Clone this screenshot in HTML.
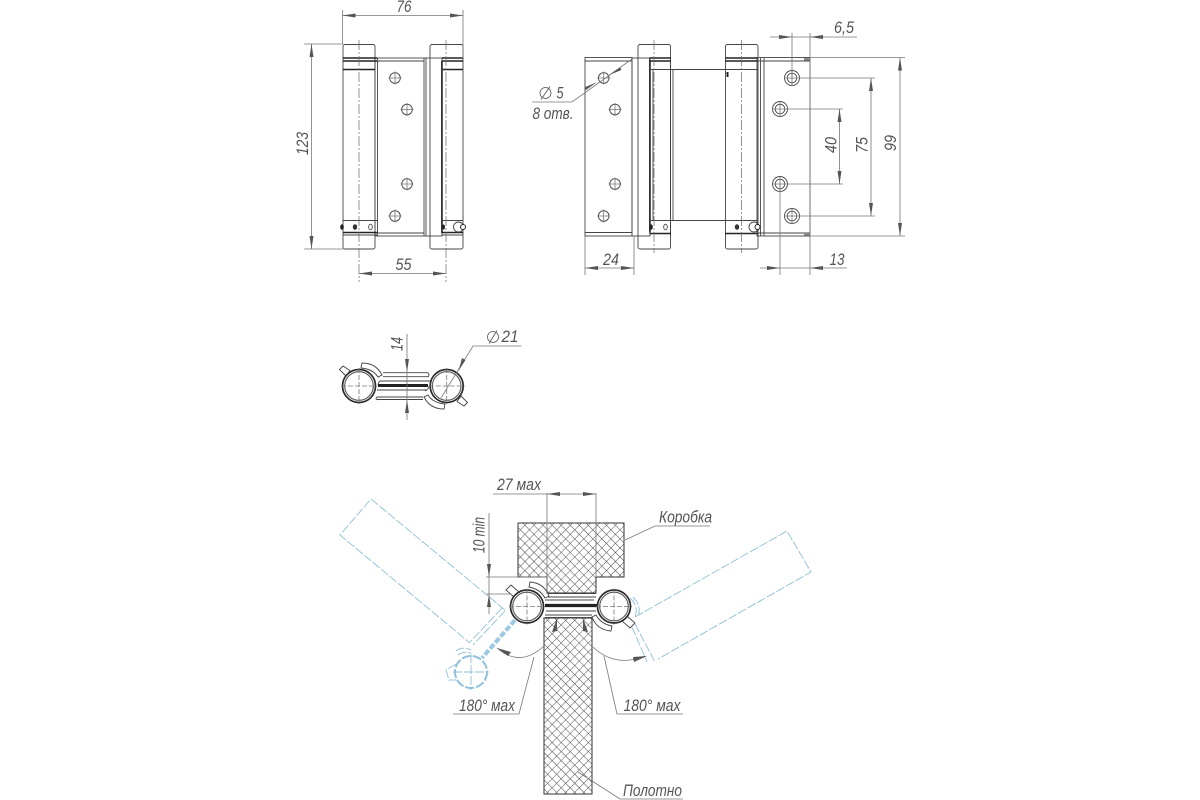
<!DOCTYPE html>
<html><head><meta charset="utf-8">
<style>
html,body{margin:0;padding:0;background:#fff}
svg{display:block;filter:blur(0.35px)}
text{font-family:"Liberation Sans",sans-serif;font-style:italic;font-size:17px;fill:#555;text-anchor:middle}
.o{fill:none;stroke:#444;stroke-width:.9}
.b{fill:none;stroke:#222;stroke-width:1.4}
.d{fill:none;stroke:#777;stroke-width:.8}
.c{fill:none;stroke:#666;stroke-width:.7;stroke-dasharray:10 2 2 2}
.bl{fill:none;stroke:#8fbfd6;stroke-width:.9;stroke-dasharray:9 2}
.h{fill:url(#x);stroke:#333;stroke-width:1}
.a{fill:#555}
</style></head><body>
<svg width="1200" height="800" viewBox="0 0 1200 800" xmlns="http://www.w3.org/2000/svg">
<defs>
<pattern id="x" width="6.400" height="6.400" patternUnits="userSpaceOnUse" patternTransform="rotate(45)">
<path d="M0 0H6.400M0 0V6.400" stroke="#444" stroke-width=".9" fill="none"/>
</pattern>
<g id="hole"><circle r="5.300" class="o"/><path d="M-6.500 0H6.500M0-6.500V6.500" class="d"/></g>
<g id="hole2"><circle r="7.500" class="o"/><circle r="4.800" class="o"/><path d="M-8 0H8M0-8V8" class="d"/></g>
<g id="sec">
<circle r="16.500" fill="#fff" stroke="#2a2a2a" stroke-width="1.700"/><circle r="14.300" fill="none" stroke="#555" stroke-width="1.100"/>
<path d="M-18 0H18M0-18V18" class="d" stroke-dasharray="5 2"/>
</g>
</defs>

<!-- LEFT HINGE -->
<g>
<rect x="343" y="44.500" width="32" height="204.500" rx="2" class="o"/>
<rect x="430" y="44.500" width="33" height="204.500" rx="2" class="o"/>
<rect x="375" y="58" width="67" height="178" fill="#fff" class="o"/>
<path d="M375 61H424M375 233H424M377.500 58V236M424 58V236M426 58V236" class="o"/>
<path d="M343 58H377M343 61H377M442 58H463M442 61H463" class="b"/>
<path d="M343 69.500H375M442 69.500H463M343 232.500H377M442 232.500H463" class="b"/>
<path d="M343 220.500H377M442 220.500H463M343 235H377M442 235H463" class="o"/>
<rect x="441" y="61" width="1.800" height="172" fill="#333"/>
<use href="#hole" x="395" y="78"/><use href="#hole" x="407" y="109.500"/>
<use href="#hole" x="407" y="184"/><use href="#hole" x="395" y="216"/>
<ellipse cx="342" cy="227" rx="1.800" ry="2.800" fill="#222"/><ellipse cx="355" cy="227" rx="2.200" ry="2.800" fill="#333"/><ellipse cx="370.500" cy="227" rx="1.800" ry="2.800" class="o"/>
<ellipse cx="443.500" cy="227" rx="1.500" ry="2.600" fill="#222"/>
<circle cx="458.500" cy="227" r="5" fill="#fff" class="o"/><circle cx="463" cy="227" r="2.500" fill="#fff" stroke="#222"/>
<path d="M359 40V282M446 40V282" class="c"/>
<path d="M342.500 10V44M463 10V58M342.500 15.500H463M304 44H343M304 249H343M311.500 44V249M359 273.500H446" class="d"/>
<path class="a" d="M342.500 15.500l13-2v4zM463 15.500l-13-2v4zM311.500 44l-2 13h4zM311.500 249l-2-13h4zM359 273.500l13-2v4zM446 273.500l-13-2v4z"/>
<text x="404" y="12" textLength="15" lengthAdjust="spacingAndGlyphs">76</text>
<text x="403.500" y="270" textLength="16" lengthAdjust="spacingAndGlyphs">55</text>
<text transform="translate(308,143.500) rotate(-90)" textLength="23" lengthAdjust="spacingAndGlyphs">123</text>
</g>

<!-- RIGHT HINGE -->
<g>
<rect x="638" y="44.500" width="32.500" height="204.500" rx="2" class="o"/>
<rect x="725.500" y="44.500" width="32.500" height="204.500" rx="2" class="o"/>
<rect x="585" y="57.500" width="47" height="178.500" fill="#fff" class="o"/>
<path d="M585 61H632M585 232.500H632" class="o"/>
<rect x="632" y="58" width="18" height="178" fill="#fff" class="o"/>
<path d="M649.500 58V233M653 69V220M673 69.500V220M670.500 58V236" class="o"/>
<rect x="649" y="60" width="1.800" height="172" fill="#333"/>
<path d="M649.500 58H671M649.500 61H671M725 58H758M725 61H758" class="b"/>
<path d="M649.500 69.500H725M725 69.500H758M649.500 220.500H725M725 220.500H758" class="o"/>
<path d="M649.500 233.500H671M725 233.500H758" class="b"/>
<rect x="757" y="57.500" width="53" height="178.500" fill="#fff" class="o"/>
<path d="M760.500 58V236M764 58V236M757 61H810M757 233H810" class="o"/>
<rect x="804" y="58" width="6" height="2.500" fill="#888"/><rect x="804" y="233" width="6" height="2.500" fill="#888"/>
<rect x="726.500" y="72" width="2" height="5" fill="#222"/>
<use href="#hole" x="603.700" y="78"/><use href="#hole" x="615" y="109.500"/>
<use href="#hole" x="615" y="184"/><use href="#hole" x="603.700" y="216"/>
<use href="#hole2" x="792" y="78"/><use href="#hole2" x="780" y="109"/>
<use href="#hole2" x="780" y="184"/><use href="#hole2" x="792" y="216"/>
<ellipse cx="651" cy="227" rx="1.800" ry="2.800" fill="#222"/><ellipse cx="665.500" cy="227" rx="1.800" ry="2.800" class="o"/>
<ellipse cx="737" cy="227" rx="2.200" ry="2.800" fill="#333"/>
<circle cx="754" cy="227" r="5" fill="#fff" class="o"/><circle cx="757.500" cy="227" r="2.500" fill="#fff" stroke="#222"/>
<path d="M654 40V253M741.500 40V253" class="c"/>
<path d="M585 236V275M634 236V275M585 268H634M792 33V78M810 33V275M770 37H857M780 184V275M760 268H847M810 57.500H905M810 236H905M900 57.500V236M799 78H875M799 216H875M871 78V216M787 109H843M787 184H843M839.500 109V184" class="d"/>
<path class="a" d="M585 268l13-2v4zM634 268l-13-2v4zM792 37l-13-2v4zM810 37l13-2v4zM780 268l-13-2v4zM810 268l13-2v4zM900 57.500l-2 13h4zM900 236l-2-13h4zM871 78l-2 13h4zM871 216l-2-13h4zM839.500 109l-2 13h4zM839.500 184l-2-13h4z"/>
<path d="M532 102H572L632 59" class="d"/>
<path class="a" d="M609 75l11-7.500 1.500 2.500zM597 82l-11 8-1.500-2.500z"/>
<text x="844" y="33" textLength="20" lengthAdjust="spacingAndGlyphs">6,5</text>
<text x="837" y="265" textLength="15" lengthAdjust="spacingAndGlyphs">13</text>
<text x="611" y="265" textLength="16" lengthAdjust="spacingAndGlyphs">24</text>
<text transform="translate(836.500,145) rotate(-90)" textLength="16" lengthAdjust="spacingAndGlyphs">40</text>
<text transform="translate(867.500,145) rotate(-90)" textLength="16" lengthAdjust="spacingAndGlyphs">75</text>
<text transform="translate(896,143) rotate(-90)" textLength="16" lengthAdjust="spacingAndGlyphs">99</text>
<text x="560" y="98.500" textLength="7" lengthAdjust="spacingAndGlyphs">5</text>
<text x="553" y="119" textLength="41" lengthAdjust="spacingAndGlyphs">8 отв.</text>
<circle cx="545.500" cy="93" r="5.500" class="d" style="stroke:#555"/><path d="M541 99.500L550 86.500" class="d" style="stroke:#555"/>
</g>

<!-- SECTION -->
<g>
<path d="M383 372.700H428M383 376.700H428M377 397H423M377 399.500H423" class="o"/>
<path d="M428 372.700Q430 375 428 377M377 397Q375 399 377 400" class="o"/>
<path d="M380 381Q378 383 378 385M425 391Q429 389 429 386" class="o"/>
<path d="M380 381H431M377 390H426" stroke="#444" stroke-width="1" fill="none"/>
<path d="M378 385.500H428" stroke="#222" stroke-width="3" fill="none"/>
<path d="M362 363Q376 363 382 375L378 377Q373 369 361 368ZM444 409Q430 409 424 397L428 395Q433 403 445 404Z" fill="#fff" class="o"/>
<path d="M339.500 369.500L343 366L350 370.500L346 376ZM467.500 402.500L464 406L457 401.500L461 396Z" fill="#fff" class="o"/>
<use href="#sec" x="359" y="386"/><use href="#sec" x="446.700" y="386"/>
<path d="M441 398L473 346H521.500" class="d"/>
<path d="M407 334V420" class="d"/>
<path class="a" d="M407 372l-2-13h4zM407 400l-2 13h4zM458.500 371l3.500-13 3.500 2z"/>
<text transform="translate(402.500,344) rotate(-90)" textLength="14" lengthAdjust="spacingAndGlyphs">14</text>
<text x="510" y="342" textLength="17" lengthAdjust="spacingAndGlyphs">21</text>
<circle cx="493" cy="337" r="5.500" class="d" style="stroke:#555"/><path d="M489 343.500L497 330.500" class="d" style="stroke:#555"/>
</g>

<!-- BOTTOM -->
<g>
<path class="h" d="M518 523H624V577H596V593H547V577H518Z"/>
<rect class="h" x="544" y="618" width="48" height="176"/>
<path d="M547 493V593M596 493V577M486 577H547M486 594H510M489 513V614" class="d"/>
<path d="M493 494H596" class="d"/>
<path class="a" d="M547 494l13-2v4zM596 494l-13-2v4zM489 577l-2-13h4zM489 594l-2 13h4z"/>
<!-- doors -->
<path class="bl" d="M505 610L371 499L340 535L470 643"/>
<path class="bl" d="M635 617L787 531L811 572L658 659"/>
<path class="bl" d="M505 611L473 645M502 608L470 642"/>
<path class="bl" d="M632 627L647 662M635 624L655 662"/>
<path d="M515 620L482 658" stroke="#9cc8e2" stroke-width="4" stroke-dasharray="6 2" fill="none"/>
<circle cx="471" cy="672" r="16" fill="#fff" stroke="#8fc0dc" stroke-width="2" stroke-dasharray="9 2"/>
<path d="M453 672H489M471 654V690" class="bl"/>
<path d="M456 664L446 670L449 680L456 680" class="bl"/>
<path d="M456 651Q462 646 471 650M458 655Q463 651 471 653" class="bl"/>
<path d="M630 598Q639 606 635 617M633 597Q642 606 638 617" class="bl"/>
<!-- hinge section -->
<rect x="545" y="594" width="52" height="24" fill="#fff"/>
<path d="M548 593.500H596M548 597H596M545 615H592M545 617.500H592" class="o"/>
<path d="M545 600H594M546 611H596" stroke="#444" stroke-width="1" fill="none"/>
<path d="M545 605.500H597" stroke="#222" stroke-width="3.200" fill="none"/>
<path d="M530 582Q544 583 549 596L545 598Q540 589 529 587ZM611 631Q597 630 592 617L596 615Q601 624 612 626Z" fill="#fff" class="o"/>
<path d="M506 590L511 585L519 592L514 597ZM635 623L630 628L622 621L627 616Z" fill="#fff" class="o"/>
<use href="#sec" x="527" y="606.500"/><use href="#sec" x="614" y="606.500"/>
<!-- angle arcs -->
<path d="M497 648Q520 668 544 646M593 647Q615 668 645 656" class="d"/>
<path class="a" d="M497 648l14 4-3 4zM647 656l-14 1 1 5zM557 618L552 632L557 631ZM583 618L588 632L583 631Z"/>
<path d="M534 657L519 714H453M604 656L617 714H683" class="d"/>
<path d="M625 540L655 526H710M578 772L620 799H683" class="d"/>
<text x="519" y="490" textLength="44" lengthAdjust="spacingAndGlyphs">27 мах</text>
<text x="685.500" y="522.500" textLength="53" lengthAdjust="spacingAndGlyphs">Коробка</text>
<text transform="translate(484.500,535) rotate(-90)" textLength="36" lengthAdjust="spacingAndGlyphs">10 min</text>
<text x="487" y="711" textLength="56" lengthAdjust="spacingAndGlyphs">180° мах</text>
<text x="652" y="711" textLength="57" lengthAdjust="spacingAndGlyphs">180° мах</text>
<text x="652.500" y="796" textLength="59" lengthAdjust="spacingAndGlyphs">Полотно</text>
</g>
</svg>
</body></html>
